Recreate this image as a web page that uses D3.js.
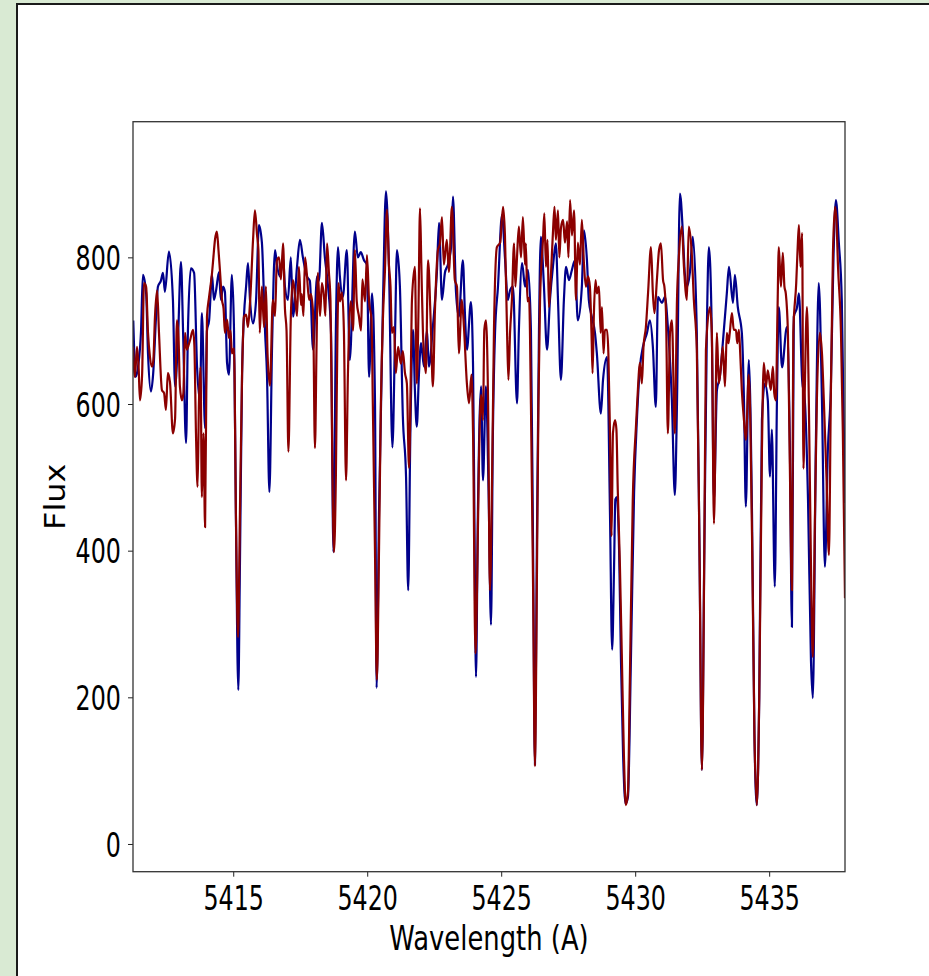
<!DOCTYPE html>
<html><head><meta charset="utf-8">
<script src="https://cdn.jsdelivr.net/npm/d3@7"></script>
<style>html,body{margin:0;padding:0;background:#d9ead3;overflow:hidden}</style>
</head><body>
<script>
// Spectrum 1 (blue): [wavelength (A), flux]
const blueSpectrum = [
[5411.27,714],[5411.36,637],[5411.45,651],[5411.56,700],[5411.63,776],[5411.75,751],[5411.82,669],[5411.93,617],[5412.01,640],[5412.12,719],
[5412.19,760],[5412.30,768],[5412.38,779],[5412.45,753],[5412.60,808],[5412.75,742],[5412.83,624],[5412.94,690],[5413.05,794],[5413.13,697],
[5413.24,547],[5413.31,700],[5413.42,785],[5413.54,779],[5413.65,651],[5413.76,605],[5413.83,724],[5413.95,567],[5414.02,700],[5414.10,714],
[5414.21,776],[5414.28,742],[5414.36,755],[5414.47,780],[5414.54,742],[5414.62,760],[5414.69,753],[5414.77,656],[5414.84,640],[5414.95,776],
[5415.03,700],[5415.10,450],[5415.19,210],[5415.25,380],[5415.33,640],[5415.40,719],[5415.48,760],[5415.55,792],[5415.63,740],[5415.74,710],
[5415.85,740],[5415.96,844],[5416.07,820],[5416.19,697],[5416.26,640],[5416.35,480],[5416.45,680],[5416.56,810],[5416.63,790],[5416.74,774],
[5416.86,800],[5416.93,760],[5417.04,742],[5417.15,800],[5417.23,719],[5417.38,787],[5417.49,824],[5417.60,800],[5417.75,774],[5417.86,768],
[5417.98,674],[5418.13,774],[5418.20,768],[5418.31,847],[5418.42,800],[5418.54,760],[5418.65,697],[5418.74,398],[5418.83,700],[5418.91,814],
[5418.98,774],[5419.09,746],[5419.24,810],[5419.35,660],[5419.54,835],[5419.65,800],[5419.76,807],[5419.88,796],[5419.99,790],[5420.07,637],
[5420.18,751],[5420.29,605],[5420.35,213],[5420.44,450],[5420.59,742],[5420.70,890],[5420.81,790],[5420.94,541],[5421.04,697],[5421.11,810],
[5421.22,760],[5421.33,583],[5421.45,500],[5421.53,346],[5421.61,560],[5421.71,701],[5421.78,619],[5421.85,569],[5421.93,640],[5422.01,683],
[5422.12,651],[5422.23,701],[5422.30,651],[5422.45,705],[5422.60,779],[5422.68,847],[5422.79,742],[5422.90,779],[5423.01,790],[5423.13,814],
[5423.20,883],[5423.31,755],[5423.42,719],[5423.57,796],[5423.65,720],[5423.72,674],[5423.87,739],[5423.95,651],[5424.00,450],[5424.06,228],
[5424.13,450],[5424.25,624],[5424.32,496],[5424.43,624],[5424.53,480],[5424.62,299],[5424.69,560],[5424.77,697],[5424.88,760],[5425.03,858],
[5425.14,800],[5425.25,742],[5425.33,755],[5425.44,760],[5425.59,601],[5425.66,700],[5425.78,792],[5425.89,760],[5426.00,783],[5426.11,701],
[5426.19,400],[5426.26,108],[5426.33,400],[5426.41,700],[5426.48,828],[5426.59,765],[5426.71,674],[5426.82,742],[5426.93,787],[5427.04,819],
[5427.12,742],[5427.23,633],[5427.34,742],[5427.42,787],[5427.53,769],[5427.64,783],[5427.75,796],[5427.86,714],[5428.01,760],[5428.09,837],
[5428.20,796],[5428.27,742],[5428.38,719],[5428.50,697],[5428.57,669],[5428.72,587],[5428.80,633],[5428.95,664],[5429.06,450],[5429.14,265],
[5429.21,374],[5429.26,470],[5429.32,473],[5429.40,400],[5429.47,250],[5429.55,120],[5429.64,55],[5429.73,64],[5429.84,250],[5429.96,480],
[5430.07,583],[5430.18,651],[5430.29,678],[5430.44,697],[5430.55,714],[5430.66,678],[5430.77,596],[5430.85,746],[5431.00,738],[5431.11,746],
[5431.22,705],[5431.37,605],[5431.48,476],[5431.56,600],[5431.67,887],[5431.78,833],[5431.85,779],[5431.93,760],[5432.04,779],[5432.15,828],
[5432.30,697],[5432.40,400],[5432.49,101],[5432.58,400],[5432.68,714],[5432.75,814],[5432.86,697],[5432.94,469],[5433.05,619],[5433.16,637],
[5433.27,683],[5433.42,751],[5433.50,787],[5433.65,738],[5433.72,776],[5433.83,732],[5433.98,697],[5434.06,605],[5434.13,460],[5434.24,660],
[5434.36,450],[5434.45,150],[5434.54,53],[5434.63,200],[5434.73,578],[5434.84,628],[5434.95,605],[5435.03,501],[5435.10,565],[5435.21,351],
[5435.29,605],[5435.36,732],[5435.48,650],[5435.66,705],[5435.77,550],[5435.85,296],[5435.92,719],[5436.04,732],[5436.11,751],[5436.23,633],
[5436.33,605],[5436.45,469],[5436.56,250],[5436.63,199],[5436.74,537],[5436.85,765],[5436.97,605],[5437.08,378],[5437.19,537],[5437.30,619],
[5437.40,800],[5437.49,878],[5437.60,820],[5437.71,742],[5437.83,465]
];
// Spectrum 2 (red): [wavelength (A), flux]
const redSpectrum = [
[5411.26,678],[5411.33,637],[5411.41,678],[5411.47,650],[5411.52,605],[5411.60,640],[5411.67,765],[5411.75,760],[5411.82,697],[5411.89,665],
[5411.97,651],[5412.02,660],[5412.08,719],[5412.16,755],[5412.23,697],[5412.34,619],[5412.42,615],[5412.49,592],[5412.56,642],[5412.64,630],
[5412.75,560],[5412.83,580],[5412.90,714],[5412.96,690],[5413.01,624],[5413.09,605],[5413.14,615],[5413.20,697],[5413.27,674],[5413.33,680],
[5413.39,687],[5413.50,701],[5413.55,680],[5413.61,560],[5413.67,487],[5413.72,600],[5413.78,650],[5413.83,473],[5413.89,560],[5413.95,432],
[5414.02,719],[5414.10,746],[5414.21,779],[5414.26,800],[5414.32,824],[5414.39,835],[5414.45,810],[5414.51,779],[5414.58,742],[5414.64,730],
[5414.69,697],[5414.77,715],[5414.84,690],[5414.90,700],[5414.95,669],[5415.03,676],[5415.10,450],[5415.18,282],[5415.25,450],[5415.33,640],
[5415.40,719],[5415.48,722],[5415.55,705],[5415.63,740],[5415.74,824],[5415.81,864],[5415.89,830],[5415.94,810],[5415.99,697],[5416.07,760],
[5416.15,705],[5416.22,760],[5416.28,669],[5416.37,625],[5416.48,742],[5416.56,720],[5416.63,796],[5416.71,800],[5416.78,770],[5416.86,819],
[5416.93,730],[5416.99,700],[5417.06,535],[5417.15,720],[5417.23,769],[5417.30,750],[5417.38,720],[5417.45,787],[5417.53,735],[5417.56,750],
[5417.62,720],[5417.68,800],[5417.75,776],[5417.83,742],[5417.90,750],[5417.98,724],[5418.05,540],[5418.11,680],[5418.16,779],[5418.24,720],
[5418.31,765],[5418.39,745],[5418.44,720],[5418.50,819],[5418.57,780],[5418.63,740],[5418.69,550],[5418.76,398],[5418.83,500],[5418.89,700],
[5418.93,765],[5418.98,740],[5419.06,752],[5419.13,700],[5419.21,496],[5419.28,640],[5419.39,740],[5419.47,700],[5419.54,810],[5419.61,740],
[5419.69,720],[5419.77,700],[5419.82,770],[5419.92,740],[5419.99,803],[5420.07,740],[5420.16,715],[5420.21,600],[5420.29,400],[5420.36,224],
[5420.44,400],[5420.51,600],[5420.59,720],[5420.66,780],[5420.74,865],[5420.81,790],[5420.87,760],[5420.92,697],[5421.00,705],[5421.07,642],
[5421.15,678],[5421.26,655],[5421.33,672],[5421.41,642],[5421.48,628],[5421.56,513],[5421.63,650],[5421.67,742],[5421.78,787],[5421.85,628],
[5421.91,720],[5421.97,867],[5422.02,790],[5422.08,697],[5422.19,642],[5422.27,796],[5422.38,700],[5422.45,624],[5422.53,730],[5422.64,810],
[5422.71,818],[5422.79,855],[5422.86,790],[5422.97,824],[5423.05,780],[5423.16,869],[5423.27,769],[5423.35,760],[5423.42,669],[5423.53,742],
[5423.61,705],[5423.72,628],[5423.80,601],[5423.89,640],[5423.95,560],[5424.04,260],[5424.09,330],[5424.17,520],[5424.25,612],[5424.32,578],
[5424.37,701],[5424.43,714],[5424.51,605],[5424.58,346],[5424.66,500],[5424.73,700],[5424.84,814],[5424.96,820],[5425.07,869],[5425.14,830],
[5425.22,697],[5425.27,633],[5425.33,697],[5425.40,742],[5425.48,819],[5425.53,760],[5425.59,800],[5425.66,842],[5425.74,800],[5425.81,855],
[5425.89,790],[5425.92,819],[5425.98,740],[5426.04,745],[5426.11,600],[5426.19,350],[5426.26,106],[5426.33,350],[5426.39,600],[5426.45,742],
[5426.56,824],[5426.61,860],[5426.67,787],[5426.73,824],[5426.78,732],[5426.86,779],[5426.93,833],[5426.99,869],[5427.04,824],[5427.12,864],
[5427.17,800],[5427.23,840],[5427.31,851],[5427.38,820],[5427.46,849],[5427.51,800],[5427.57,878],[5427.64,830],[5427.72,864],[5427.79,742],
[5427.86,820],[5427.94,790],[5428.01,851],[5428.09,790],[5428.16,760],[5428.24,774],[5428.31,760],[5428.37,697],[5428.41,642],[5428.46,724],
[5428.52,769],[5428.57,751],[5428.65,760],[5428.71,697],[5428.76,732],[5428.82,669],[5428.87,701],[5428.95,701],[5429.00,669],[5429.06,560],
[5429.12,420],[5429.17,560],[5429.25,578],[5429.30,565],[5429.35,483],[5429.43,380],[5429.50,260],[5429.58,120],[5429.65,53],[5429.73,70],
[5429.80,220],[5429.91,469],[5430.03,570],[5430.08,605],[5430.18,656],[5430.25,628],[5430.31,678],[5430.40,705],[5430.48,751],[5430.59,814],
[5430.66,751],[5430.72,724],[5430.81,769],[5430.89,810],[5430.96,819],[5431.04,769],[5431.09,760],[5431.15,724],[5431.22,560],[5431.30,697],
[5431.37,714],[5431.48,560],[5431.56,742],[5431.63,800],[5431.74,842],[5431.82,787],[5431.93,742],[5432.00,842],[5432.11,806],[5432.19,742],
[5432.30,674],[5432.40,400],[5432.49,101],[5432.58,400],[5432.64,674],[5432.79,732],[5432.86,697],[5432.94,437],[5433.05,697],[5433.12,628],
[5433.20,651],[5433.27,678],[5433.35,624],[5433.42,697],[5433.48,683],[5433.53,697],[5433.61,724],[5433.68,701],[5433.76,701],[5433.81,683],
[5433.87,701],[5433.92,669],[5433.98,619],[5434.06,578],[5434.13,551],[5434.24,640],[5434.36,420],[5434.45,150],[5434.54,53],[5434.63,200],
[5434.73,537],[5434.80,656],[5434.88,624],[5434.95,646],[5435.06,619],[5435.14,651],[5435.19,615],[5435.25,605],[5435.31,724],[5435.36,814],
[5435.44,760],[5435.51,806],[5435.57,760],[5435.62,751],[5435.70,697],[5435.77,520],[5435.85,346],[5435.90,697],[5436.01,765],[5436.06,810],
[5436.11,844],[5436.17,787],[5436.23,833],[5436.28,512],[5436.33,620],[5436.41,732],[5436.48,605],[5436.56,380],[5436.63,255],[5436.71,450],
[5436.78,605],[5436.89,697],[5436.97,669],[5437.04,605],[5437.14,500],[5437.23,394],[5437.30,605],[5437.38,806],[5437.46,869],[5437.51,851],
[5437.57,787],[5437.68,697],[5437.75,560],[5437.83,335]
];
const xTicks = [5415, 5420, 5425, 5430, 5435];
const yTicks = [0, 200, 400, 600, 800];
const xDomain = [5411.26, 5437.83];
const yDomain = [-37.8, 985];
const xLabel = "Wavelength (A)";
const yLabel = "Flux";

(function () {
const W = 929, H = 976;
const svg = d3.select("body").append("svg").attr("width", W).attr("height", H)
  .style("display", "block");
svg.append("rect").attr("width", W).attr("height", H).attr("fill", "#d9ead3");
svg.append("rect").attr("x", 17).attr("y", 4).attr("width", W + 20).attr("height", H + 20)
  .attr("fill", "#fff").attr("stroke", "#1a1a1a").attr("stroke-width", 2);

const pL = 133, pR = 845, pT = 121.7, pB = 871.7;
const x = d3.scaleLinear().domain(xDomain).range([pL, pR]);
const y = d3.scaleLinear().domain(yDomain).range([pB, pT]);

svg.append("clipPath").attr("id", "clip").append("rect")
  .attr("x", pL).attr("y", pT).attr("width", pR - pL).attr("height", pB - pT);

const line = d3.line().x(d => x(d[0])).y(d => y(d[1])).curve(d3.curveMonotoneX);
const g = svg.append("g").attr("clip-path", "url(#clip)");
g.append("path").datum(blueSpectrum).attr("d", line).attr("fill", "none")
  .attr("stroke", "#00008b").attr("stroke-width", 2.2).attr("stroke-linejoin", "round");
g.append("path").datum(redSpectrum).attr("d", line).attr("fill", "none")
  .attr("stroke", "#8b0000").attr("stroke-width", 2.2).attr("stroke-linejoin", "round");

const font = "'DejaVu Sans', sans-serif";
const xAxis = svg.append("g").attr("transform", `translate(0,${pB})`)
  .call(d3.axisBottom(x).tickValues(xTicks).tickSize(5).tickSizeOuter(0).tickFormat(d3.format("d")));
xAxis.select(".domain").remove();
xAxis.selectAll(".tick line").attr("stroke", "#222");
xAxis.selectAll(".tick text").attr("font-family", font).attr("font-size", 34).attr("fill", "#000")
  .attr("y", 38).attr("dy", null).attr("transform", "scale(0.70,1)");

const yAxis = svg.append("g").attr("transform", `translate(${pL},0)`)
  .call(d3.axisLeft(y).tickValues(yTicks).tickSize(5).tickSizeOuter(0).tickFormat(d3.format("d")));
yAxis.select(".domain").remove();
yAxis.selectAll(".tick line").attr("stroke", "#222");
yAxis.selectAll(".tick text").attr("font-family", font).attr("font-size", 34).attr("fill", "#000")
  .attr("x", -12 / 0.70).attr("dy", "0.36em").attr("transform", "scale(0.70,1)");

svg.append("rect").attr("x", pL).attr("y", pT).attr("width", pR - pL).attr("height", pB - pT)
  .attr("fill", "none").attr("stroke", "#333").attr("stroke-width", 1.3);

svg.append("text").attr("transform", `translate(${(pL + pR) / 2},950) scale(0.76,1)`)
  .attr("text-anchor", "middle").attr("font-family", font).attr("font-size", 34).attr("fill", "#000")
  .text(xLabel);
svg.append("text").attr("transform", `translate(65,${(pT + pB) / 2}) scale(0.9,1) rotate(-90)`)
  .attr("text-anchor", "middle").attr("font-family", font).attr("font-size", 32).attr("fill", "#000")
  .text(yLabel);
})();
</script>
</body></html>
